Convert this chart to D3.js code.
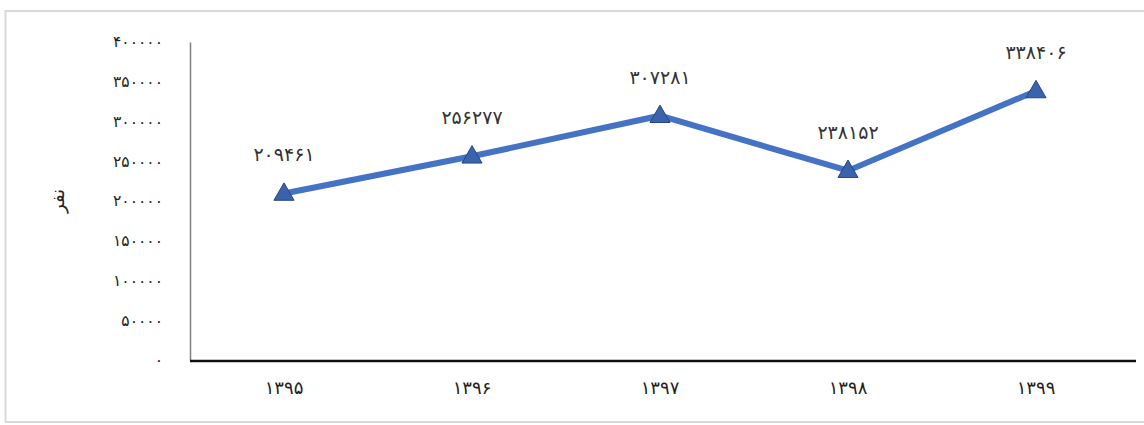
<!DOCTYPE html>
<html lang="fa">
<head>
  <meta charset="UTF-8">
  <title>روند</title>
  <script src="https://cdnjs.cloudflare.com/ajax/libs/d3/7.8.5/d3.min.js"></script>
  <style>
    body {
      margin: 0;
      background: white;
    }
    svg {
      display: block;
      font-family: "DejaVu Sans", sans-serif;
    }
  </style>
</head>
<body>
  <script>
    var years = ["1395", "1396", "1397", "1398", "1399"];
    var values = [209461, 256277, 307281, 238152, 338406];
    var yTicks = [0, 50000, 100000, 150000, 200000, 250000, 300000, 350000, 400000];
    var yLabel = "نفر";

    var w = 1144;
    var h = 425;

    function fa(s) {
      var digits = "۰۱۲۳۴۵۶۷۸۹";
      return String(s).replace(/[0-9]/g, function(d) {
        return digits[+d];
      });
    }

    var svg = d3.select("body").append("svg")
      .attr("width", w)
      .attr("height", h);

    // chart frame
    svg.append("rect")
      .attr("x", 5.5)
      .attr("y", 11)
      .attr("width", w + 10)
      .attr("height", 411)
      .attr("fill", "none")
      .attr("stroke", "#d9d9d9")
      .attr("stroke-width", 2);

    var xScale = d3.scaleBand()
      .domain(years)
      .range([190, 1130]);

    var yScale = d3.scaleLinear()
      .domain([0, 400000])
      .range([360, 42]);

    // y axis
    var yAxis = d3.axisLeft(yScale)
      .tickValues(yTicks)
      .tickSize(0)
      .tickPadding(27)
      .tickFormat(function(d) { return fa(d); });

    var gy = svg.append("g")
      .attr("transform", "translate(190, 0)")
      .call(yAxis);
    gy.select(".domain").attr("stroke", "#7f7f7f").attr("stroke-width", 1.5);
    gy.selectAll("text")
      .attr("font-size", 15.5)
      .attr("font-family", "DejaVu Sans")
      .attr("fill", "#222");

    // x axis
    var xAxis = d3.axisBottom(xScale)
      .tickSize(0)
      .tickPadding(20)
      .tickFormat(function(d) { return fa(d); });

    var gx = svg.append("g")
      .attr("transform", "translate(0, 361)")
      .call(xAxis);
    gx.select(".domain")
      .attr("d", "M190,0H1136")
      .attr("stroke", "#111")
      .attr("stroke-width", 2.5);
    gx.selectAll("text")
      .attr("font-size", 18)
      .attr("font-family", "DejaVu Sans")
      .attr("fill", "#222");

    // y label
    svg.append("text")
      .attr("transform", "translate(64, 201) rotate(-90)")
      .attr("text-anchor", "middle")
      .attr("font-size", 18)
      .attr("fill", "#222")
      .text(yLabel);

    var points = years.map(function(y, i) {
      return { year: y, value: values[i] };
    });

    var line = d3.line()
      .x(function(d) { return xScale(d.year) + xScale.bandwidth() / 2; })
      .y(function(d) { return yScale(d.value); });

    svg.append("path")
      .datum(points)
      .attr("d", line)
      .attr("fill", "none")
      .attr("stroke", "#4472C4")
      .attr("stroke-width", 6)
      .attr("stroke-linejoin", "miter");

    var tri = d3.symbol().type(d3.symbolTriangle).size(175);

    svg.selectAll(".marker")
      .data(points)
      .enter()
      .append("path")
      .attr("class", "marker")
      .attr("transform", function(d) {
        return "translate(" + (xScale(d.year) + xScale.bandwidth() / 2) + "," + (yScale(d.value) + 1) + ")";
      })
      .attr("d", tri)
      .attr("fill", "#3a62ad")
      .attr("stroke", "#27467f")
      .attr("stroke-width", 1);

    svg.selectAll(".dlabel")
      .data(points)
      .enter()
      .append("text")
      .attr("class", "dlabel")
      .attr("x", function(d) { return xScale(d.year) + xScale.bandwidth() / 2; })
      .attr("y", function(d) { return yScale(d.value) - 32; })
      .attr("text-anchor", "middle")
      .attr("font-size", 19)
      .attr("fill", "#333")
      .text(function(d) { return fa(d.value); });
  </script>
</body>
</html>
